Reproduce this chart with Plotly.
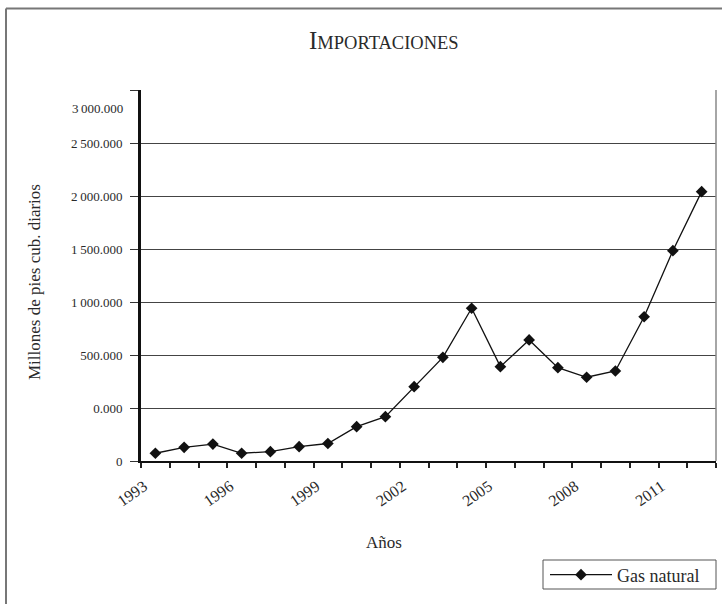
import plotly.graph_objects as go

# Natural gas imports, million cubic feet per day
years = [1993, 1994, 1995, 1996, 1997, 1998, 1999, 2000, 2001, 2002,
         2003, 2004, 2005, 2006, 2007, 2008, 2009, 2010, 2011, 2012]
gas_natural = [73, 129, 160, 73, 88, 135, 165, 324, 418, 701,
               978, 1441, 890, 1142, 880, 790, 849, 1361, 1984, 2541]

x_tick_years = [1993, 1996, 1999, 2002, 2005, 2008, 2011]
y_tick_vals = [0, 500, 1000, 1500, 2000, 2500, 3000, 3500]
y_tick_text = ["0", "0.000", "500.000", "1\u2009000.000", "1\u2009500.000",
               "2\u2009000.000", "2\u2009500.000", ""]
y_top_label = "3\u2009000.000"

FONT = "Liberation Serif"
TXT = "#2a2a2a"

# plot area in pixels: x 141..716, y 90..461
L, R, T, B = 141, 716, 90, 461
W, H = 722, 604
def px(x):
    return (x - L) / (R - L)
def py(y):
    return (B - y) / (B - T)

fig = go.Figure()
fig.add_trace(go.Scatter(
    x=years, y=gas_natural, mode="lines+markers", name="Gas natural",
    line=dict(color="#111111", width=1.3),
    marker=dict(symbol="diamond", size=9, color="#111111"),
))

fig.update_layout(
    width=W, height=H,
    margin=dict(l=L, r=W - R, t=T, b=H - B, pad=0),
    paper_bgcolor="white", plot_bgcolor="white",
    font=dict(family=FONT, color=TXT),
    showlegend=True,
    legend=dict(
        x=px(545), xanchor="left", y=py(575), yanchor="middle",
        borderwidth=0, bgcolor="rgba(0,0,0,0)",
        font=dict(size=18, family=FONT, color=TXT),
        itemwidth=62,
    ),
    xaxis=dict(
        range=[1992.5, 2012.5],
        tickmode="array", tickvals=[y - 0.4 for y in x_tick_years],
        ticktext=[str(y) for y in x_tick_years],
        tickangle=-35, ticks="",
        tickfont=dict(size=16, family=FONT, color=TXT),
        ticklabelstandoff=8,
        showline=True, linecolor="#111111", linewidth=2,
        showgrid=False, zeroline=False,
        minor=dict(tickmode="linear", tick0=1992.5, dtick=1,
                   ticks="outside", ticklen=5, tickwidth=1.5,
                   tickcolor="#222222", showgrid=False),
    ),
    yaxis=dict(
        range=[0, 3500],
        tickmode="array", tickvals=y_tick_vals, ticktext=y_tick_text,
        ticks="outside", ticklen=8, tickwidth=1, tickcolor="#333333",
        tickfont=dict(size=13, family=FONT, color=TXT),
        ticklabelstandoff=5,
        showline=True, linecolor="#111111", linewidth=3,
        showgrid=True, gridcolor="#444444", gridwidth=1,
        zeroline=False,
    ),
)

annotations = [
    dict(text="<span style='font-size:25px'>I</span>MPORTACIONES",
         x=px(384), y=py(40), xref="paper", yref="paper",
         xanchor="center", yanchor="middle",
         showarrow=False, font=dict(size=18.5, family=FONT, color=TXT)),
    dict(text="Millones de pies cub. diarios", textangle=-90,
         x=px(34), y=py(282), xref="paper", yref="paper",
         xanchor="center", yanchor="middle",
         showarrow=False, font=dict(size=17, family=FONT, color=TXT)),
    dict(text="Años", x=px(384), y=py(542), xref="paper", yref="paper",
         xanchor="center", yanchor="middle",
         showarrow=False, font=dict(size=17, family=FONT, color=TXT)),
    dict(text=y_top_label, x=px(125), y=3330, xref="paper", yref="y",
         xanchor="right", yanchor="middle", showarrow=False,
         font=dict(size=13, family=FONT, color=TXT)),
]
fig.update_layout(annotations=annotations)

shapes = [
    # outer frame (left and top edges)
    dict(type="line", xref="paper", yref="paper",
         x0=px(6), x1=px(6), y0=py(H + 5), y1=py(8.5),
         line=dict(color="#777777", width=2)),
    dict(type="line", xref="paper", yref="paper",
         x0=px(6), x1=px(W + 5), y0=py(8.5), y1=py(8.5),
         line=dict(color="#777777", width=2)),
    # right edge of plot area
    dict(type="line", xref="paper", yref="paper",
         x0=1, x1=1, y0=0, y1=1,
         line=dict(color="#888888", width=1.5)),
    # legend frame
    dict(type="rect", xref="paper", yref="paper",
         x0=px(543), x1=px(716), y0=py(589), y1=py(560),
         line=dict(color="#555555", width=1), fillcolor="white",
         layer="below"),
]
fig.update_layout(shapes=shapes)

fig.write_html("out.html")
